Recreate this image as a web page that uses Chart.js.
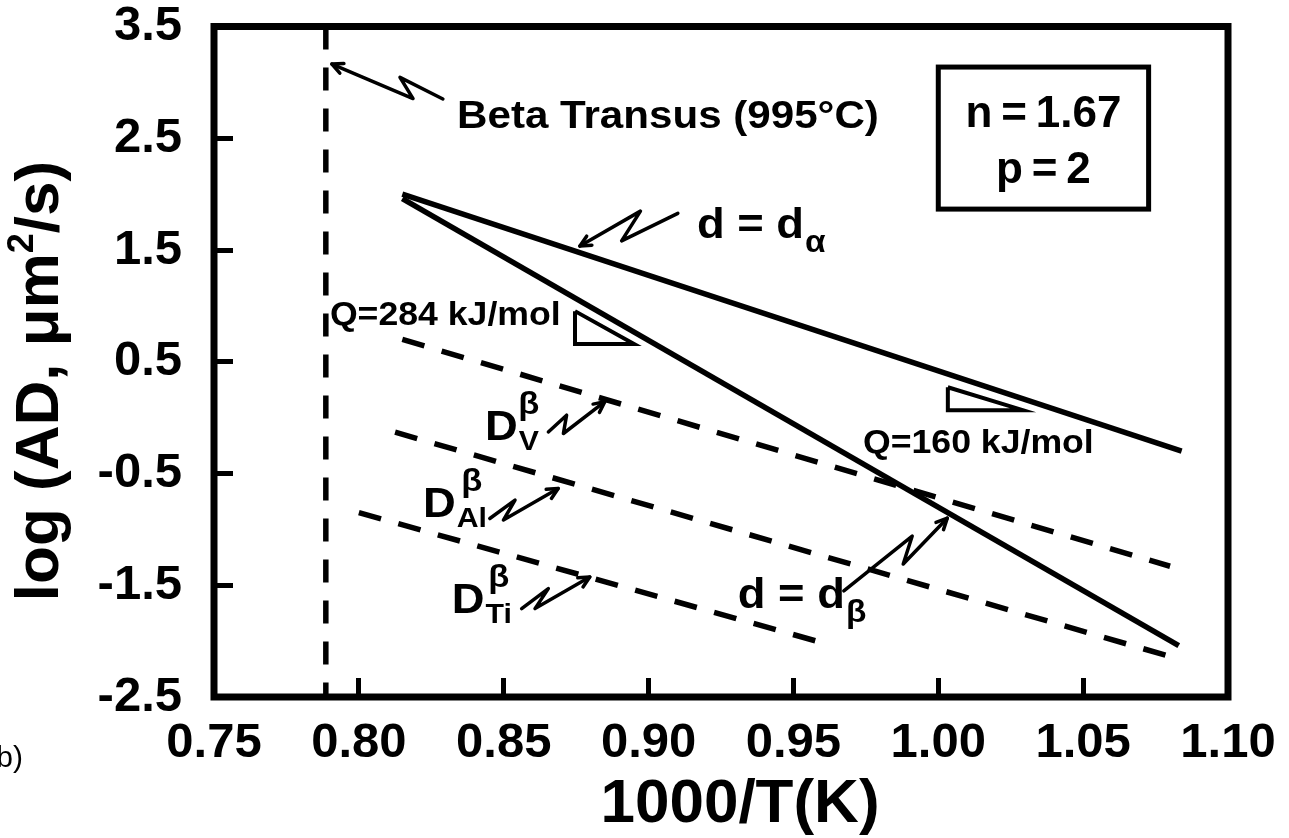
<!DOCTYPE html>
<html>
<head>
<meta charset="utf-8">
<script src="https://cdn.jsdelivr.net/npm/chart.js@4.4.1/dist/chart.umd.min.js"></script>
<style>
  html, body { margin: 0; padding: 0; background: #fff; }
  #wrap { width: 1289px; height: 838px; }
</style>
</head>
<body>
<div id="wrap"><canvas id="chart" width="1289" height="838"></canvas></div>
<script>
// Axis ticks
const xTicks = [0.75, 0.80, 0.85, 0.90, 0.95, 1.00, 1.05, 1.10];
const yTicks = [-2.5, -1.5, -0.5, 0.5, 1.5, 2.5, 3.5];

// Solid lines: d = d_alpha (Q=160) and d = d_beta (Q=284)
const dAlphaX = [0.815, 1.084];
const dAlphaY = [2.00, -0.30];
const dBetaX = [0.815, 1.083];
const dBetaY = [1.96, -2.04];

// Dashed lines: beta diffusivities of V, Al, Ti
const dvX = [0.815, 1.080];
const dvY = [0.70, -1.33];
const dalX = [0.8125, 1.079];
const dalY = [-0.13, -2.13];
const dtiX = [0.800, 0.958];
const dtiY = [-0.85, -2.00];

// Beta transus (995 C = 1268 K)
const transusX = [0.7886, 0.7886];
const transusY = [3.5, -2.5];

// Slope triangles
const tri284X = [0.8746, 0.8746, 0.895, 0.8746];
const tri284Y = [0.953, 0.658, 0.658, 0.953];
const tri160X = [1.0033, 1.0033, 1.0292, 1.0033];
const tri160Y = [0.272, 0.067, 0.067, 0.272];

// Annotation arrows: tail, kink, kink, tip (data units)
const arrows = [
    [[0.8290, 2.851], [0.8142, 3.045], [0.8187, 2.855], [0.7907, 3.164]],
    [[0.9101, 1.828], [0.8907, 1.582], [0.8972, 1.848], [0.8763, 1.535]],
    [[0.9674, -1.55], [0.9910, -1.06], [0.9879, -1.31], [1.0031, -0.90]],
    [[0.8654, -0.128], [0.8717, 0.022], [0.8706, -0.142], [0.8849, 0.143]],
    [[0.8452, -0.903], [0.8539, -0.738], [0.8499, -0.917], [0.8688, -0.634]],
    [[0.8562, -1.709], [0.8654, -1.530], [0.8608, -1.709], [0.8797, -1.426]]
];

// Plain text notes (left x, baseline y in data units)
const notes = [
    { text: 'Beta Transus (995°C)', x: 0.8339, y: 2.591, size: 39 },
    { text: 'Q=284 kJ/mol', x: 0.7900, y: 0.828, size: 33 },
    { text: 'Q=160 kJ/mol', x: 0.9740, y: -0.318, size: 33 }
];
const gsLabels = [
    { main: 'd = d', sub: 'α', x: 0.9167, y: 1.607 },
    { main: 'd = d', sub: 'β', x: 0.9308, y: -1.706 }
];
const diffLabels = [
    { sub: 'V', x: 0.8435, y: -0.202 },
    { sub: 'Al', x: 0.8221, y: -0.891 },
    { sub: 'Ti', x: 0.8321, y: -1.751 }
];
const boxLines = ['n\u2009=\u20091.67', 'p\u2009=\u20092'];
const boxLineY = [2.603, 2.099];
const boxX = [1.000, 1.0726];
const boxY = [3.137, 1.866];

const FONT = '"Liberation Sans", Arial, Helvetica, sans-serif';
const font = (size, bold = true) => `${bold ? 'bold ' : ''}${size}px ${FONT}`;
const STRETCH = 1.08; // the source lettering is a bit wider than Arial

const pts = (xs, ys) => xs.map((x, i) => ({ x: x, y: ys[i] }));

function lineSet(xs, ys, dash, width) {
    return {
        data: pts(xs, ys),
        showLine: true,
        borderColor: '#000',
        borderWidth: width,
        borderDash: dash,
        borderCapStyle: 'butt',
        borderJoinStyle: 'miter',
        pointRadius: 0,
        fill: false,
        tension: 0
    };
}

const DASH = [23, 18];

// draws text widened horizontally, returns drawn width
function wideText(ctx, str, x, y) {
    ctx.save();
    ctx.translate(x, y);
    ctx.scale(STRETCH, 1);
    ctx.fillText(str, 0, 0);
    ctx.restore();
    return ctx.measureText(str).width * STRETCH;
}

/**
 * Frame, titles, arrows and text labels
 */
const annotationPlugin = {
    id: 'annotations',
    afterDraw(chart) {
        const { ctx, chartArea: a } = chart;
        const px = v => chart.scales.x.getPixelForValue(v);
        const py = v => chart.scales.y.getPixelForValue(v);
        ctx.save();
        ctx.fillStyle = '#000';
        ctx.strokeStyle = '#000';
        ctx.textBaseline = 'alphabetic';
        ctx.textAlign = 'left';

        // Plot frame
        ctx.lineWidth = 7;
        ctx.strokeRect(a.left, a.top, a.right - a.left, a.bottom - a.top);

        // Zig-zag arrows
        ctx.lineWidth = 3.5;
        ctx.lineJoin = 'round';
        ctx.lineCap = 'round';
        arrows.forEach(arr => {
            const p = arr.map(d => [px(d[0]), py(d[1])]);
            ctx.beginPath();
            ctx.moveTo(p[0][0], p[0][1]);
            for (let i = 1; i < p.length; i++) ctx.lineTo(p[i][0], p[i][1]);
            ctx.stroke();
            const tip = p[p.length - 1], prev = p[p.length - 2];
            const ang = Math.atan2(tip[1] - prev[1], tip[0] - prev[0]);
            const L = 12, spread = 0.45;
            ctx.beginPath();
            ctx.moveTo(tip[0] - L * Math.cos(ang - spread), tip[1] - L * Math.sin(ang - spread));
            ctx.lineTo(tip[0], tip[1]);
            ctx.lineTo(tip[0] - L * Math.cos(ang + spread), tip[1] - L * Math.sin(ang + spread));
            ctx.stroke();
        });

        // Notes
        notes.forEach(n => {
            ctx.font = font(n.size);
            wideText(ctx, n.text, px(n.x), py(n.y));
        });

        // d = d_alpha / d_beta
        gsLabels.forEach(l => {
            const x0 = px(l.x), y0 = py(l.y);
            ctx.font = font(42);
            const w = wideText(ctx, l.main, x0, y0);
            ctx.font = font(31);
            wideText(ctx, l.sub, x0 + w + 1, y0 + 14);
        });

        // D^beta labels
        diffLabels.forEach(l => {
            const x0 = px(l.x), y0 = py(l.y);
            ctx.font = font(42);
            const w = wideText(ctx, 'D', x0, y0);
            ctx.font = font(28);
            const sw = ctx.measureText(l.sub).width * STRETCH;
            wideText(ctx, l.sub, x0 + w + 1, y0 + 10);
            ctx.font = font(32);
            const bw = ctx.measureText('β').width * STRETCH;
            wideText(ctx, 'β', x0 + w + 1 + (sw - bw) / 2, y0 - 26);
        });

        // Parameter box
        const bx0 = px(boxX[0]), bx1 = px(boxX[1]);
        const by0 = py(boxY[0]), by1 = py(boxY[1]);
        ctx.lineWidth = 5;
        ctx.lineJoin = 'miter';
        ctx.strokeRect(bx0, by0, bx1 - bx0, by1 - by0);
        ctx.font = font(44);
        ctx.textAlign = 'center';
        boxLines.forEach((t, i) => ctx.fillText(t, (bx0 + bx1) / 2, py(boxLineY[i])));

        // X title
        ctx.font = font(62);
        ctx.fillText('1000/T(K)', 740, 822);

        // Y title, rotated
        ctx.save();
        ctx.translate(58, 381);
        ctx.rotate(-Math.PI / 2);
        ctx.textAlign = 'left';
        const partA = 'log (AD, μm', partB = '2', partC = '/s)';
        ctx.font = font(62);
        const wA = ctx.measureText(partA).width, wC = ctx.measureText(partC).width;
        ctx.font = font(36);
        const wB = ctx.measureText(partB).width;
        let cx = -(wA + wB + wC) / 2;
        ctx.font = font(62);
        ctx.fillText(partA, cx, 0);
        cx += wA;
        ctx.font = font(36);
        ctx.fillText(partB, cx, -25);
        cx += wB;
        ctx.font = font(62);
        ctx.fillText(partC, cx, 0);
        ctx.restore();

        // Panel tag
        ctx.font = font(30, false);
        ctx.textAlign = 'right';
        ctx.fillText('(b)', 23, 767);

        ctx.restore();
    }
};

const tickFont = { family: FONT, size: 49, weight: 'bold' };
const hideEnds = n => c => (c.index === 0 || c.index === n - 1) ? 'rgba(0,0,0,0)' : '#000';

new Chart(document.getElementById('chart'), {
    type: 'scatter',
    data: {
        datasets: [
            lineSet(transusX, transusY, DASH, 5.5),
            lineSet(dAlphaX, dAlphaY, [], 5.5),
            lineSet(dBetaX, dBetaY, [], 5.5),
            lineSet(dvX, dvY, DASH, 5.5),
            lineSet(dalX, dalY, DASH, 5.5),
            lineSet(dtiX, dtiY, DASH, 5.5),
            lineSet(tri284X, tri284Y, [], 4),
            lineSet(tri160X, tri160Y, [], 4)
        ]
    },
    options: {
        responsive: false,
        animation: false,
        events: [],
        layout: { padding: { top: 26.5, right: 61, left: 0, bottom: 0 } },
        plugins: {
            legend: { display: false },
            tooltip: { enabled: false }
        },
        scales: {
            x: {
                type: 'linear',
                min: 0.75,
                max: 1.10,
                afterBuildTicks: s => { s.ticks = xTicks.map(v => ({ value: v })); },
                afterFit: s => { s.height = 141; s.paddingLeft = 0; s.paddingRight = 0; },
                border: { display: false },
                grid: {
                    drawOnChartArea: false,
                    drawTicks: true,
                    tickLength: -19,
                    tickWidth: 5,
                    tickColor: hideEnds(xTicks.length)
                },
                ticks: {
                    autoSkip: false,
                    maxRotation: 0,
                    padding: 36,
                    color: '#000',
                    font: tickFont,
                    callback: v => Number(v).toFixed(2)
                }
            },
            y: {
                type: 'linear',
                min: -2.5,
                max: 3.5,
                afterBuildTicks: s => { s.ticks = yTicks.map(v => ({ value: v })); },
                afterFit: s => { s.width = 214; s.paddingTop = 0; s.paddingBottom = 0; },
                border: { display: false },
                grid: {
                    drawOnChartArea: false,
                    drawTicks: true,
                    tickLength: -19,
                    tickWidth: 5,
                    tickColor: hideEnds(yTicks.length)
                },
                ticks: {
                    autoSkip: false,
                    padding: 51,
                    color: '#000',
                    font: tickFont,
                    callback: v => Number(v).toFixed(1)
                }
            }
        }
    },
    plugins: [annotationPlugin]
});
</script>
</body>
</html>
